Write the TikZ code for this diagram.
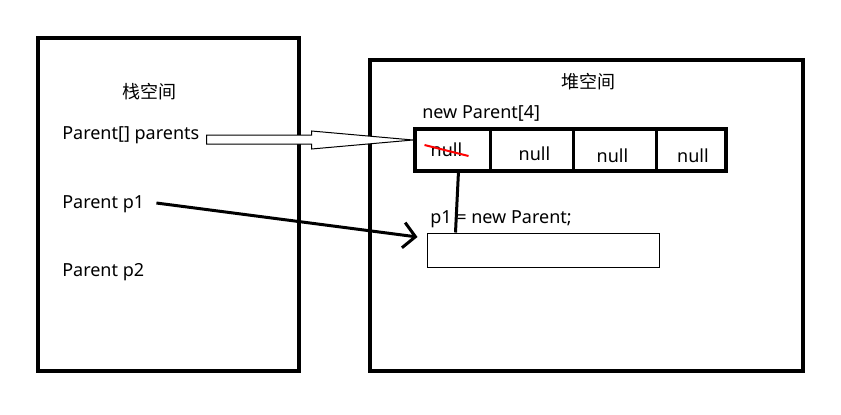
\documentclass[tikz,border=0pt]{standalone}
\usepackage{fontspec}
\setmainfont{Noto Sans}
\newfontfamily\cjk{Noto Sans CJK SC}
\usetikzlibrary{arrows.meta,positioning,calc}

\begin{document}
\begin{tikzpicture}[
          x=0.75pt, y=-0.75pt,
          every node/.style={font=\fontsize{13.5}{16}\selectfont, inner sep=0pt},
          space/.style={draw, line width=3pt},
          lbl/.style={anchor=west},
          cell/.style={draw, line width=2.25pt, outer sep=0pt, minimum height=31.5pt},
          objbox/.style={draw, line width=0.75pt, minimum width=174pt, minimum height=25.5pt},
          ref/.style={-{Straight Barb[length=9pt, width=19pt, line width=2.25pt]}, line width=2.25pt},
          hollow/.style={draw, line width=0.75pt, fill=white}
        ]
        \useasboundingbox (0,0) rectangle (841,414);
        % stack and heap
        \draw[space] (38,38) rectangle (299,371);
        \draw[space] (370,60) rectangle (803,371);
        \node (stk) at (149,92) {\cjk 栈空间};
        \node (hp) at (588,82) {\cjk 堆空间};
        \node[lbl] (parr) at (62,135) {Parent[] parents};
        \node[lbl] (p1) at (62,204) {Parent p1};
        \node[lbl] (p2) at (62,272) {Parent p2};
        % array
        \node[lbl] (newarr) at (422,113) {new Parent[4]};
        \node[cell, minimum width=56.25pt, anchor=west] (c1) at (415,150) {};
        \node[cell, minimum width=62.25pt, right=0pt of c1] (c2) {};
        \node[cell, minimum width=62.25pt, right=0pt of c2] (c3) {};
        \node[cell, minimum width=52.5pt, right=0pt of c3] (c4) {};
        \draw[line width=3pt] (c1.north west) rectangle (c4.south east);
        \node at ($(c1.center)+(-6,0)$) {null};
        \node at ($(c2.center)+(3,4)$) {null};
        \node at ($(c3.center)+(-2,6)$) {null};
        \node at ($(c4.center)+(2,6)$) {null};
        \draw[red, line width=1.5pt] ($(c1.center)+(-28,-5)$) -- ($(c1.center)+(16,6)$);
        % object
        \node[lbl] (newobj) at (430,219) {p1 = new Parent;};
        \node[objbox] (obj) at (543,250) {};
        \draw[line width=2.25pt] ($(c1.south)+(6,0)$) -- ($(obj.north west)+(29,0)$);
        % references
        \coordinate (tail) at ($(parr.east)+(7,4.5)$);
        \coordinate (tip) at (413,140);
        \draw[hollow] (tail) ++(0,-4.5) -- ++(105,0) -- ++(0,-4) -- (tip)
              -- ($(tail)+(105,9.5)$) -- ++(0,-5) -- ++(-105,0) -- cycle;
        \draw[ref] ($(p1.east)+(12,-1)$) -- ($(obj.west)+(-9,-13)$);
      \end{tikzpicture}
\end{document}
